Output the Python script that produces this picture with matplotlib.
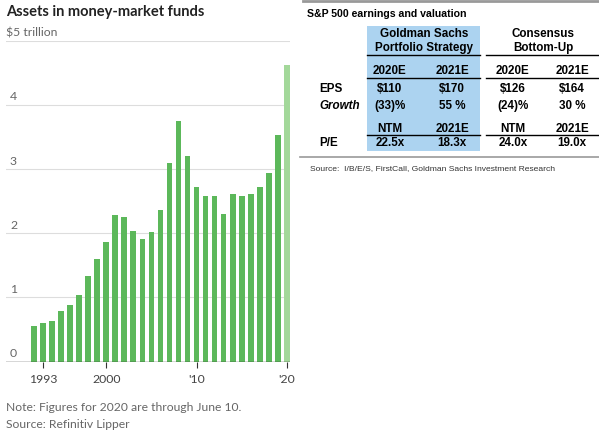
import numpy as np
import matplotlib
matplotlib.use("Agg")
from matplotlib import pyplot as plt
from matplotlib.patches import Rectangle
from matplotlib.lines import Line2D

# money-market fund assets, $ trillion
years = list(range(1992, 2021))
assets = [0.56, 0.60, 0.64, 0.79, 0.89, 1.04, 1.33, 1.60, 1.86, 2.28,
          2.25, 2.04, 1.92, 2.02, 2.36, 3.10, 3.75, 3.21, 2.73, 2.58,
          2.58, 2.30, 2.61, 2.58, 2.62, 2.73, 2.94, 3.54, 4.63]
y_ticks = [0, 1, 2, 3, 4]
x_ticks = [1993, 2000, 2010, 2020]
x_tick_labels = ["1993", "2000", "'10", "'20"]

# S&P 500 table
group_names = ["Goldman Sachs\nPortfolio Strategy", "Consensus\nBottom-Up"]
eps_years = ["2020E", "2021E", "2020E", "2021E"]
eps_values = ["$110", "$170", "$126", "$164"]
growth_values = ["(33)%", "55 %", "(24)%", "30 %"]
pe_headers = ["NTM", "2021E", "NTM", "2021E"]
pe_values = ["22.5x", "18.3x", "24.0x", "19.0x"]

W, H = 599, 435
fig = plt.figure(figsize=(W / 100, H / 100), dpi=100)


def fx(px):
    return px / W


def fy(py):
    return 1 - py / H


# ---- left: bar chart ----
green = "#5cb85a"
light_green = "#a3d89a"
grey_text = "#666666"

y0, y5 = 362.5, 42.3
x_left, x_right = 6, 290
ax = fig.add_axes([fx(x_left), fy(y0), fx(x_right - x_left), fy(y5) - fy(y0)])
colors = [green] * (len(years) - 1) + [light_green]
ax.bar(years, assets, width=0.63, color=colors, zorder=2)
ax.set_xlim(1988.9, 2020.35)
ax.set_ylim(0, 5)
for s in ax.spines.values():
    s.set_visible(False)
for v in y_ticks[1:] + [5]:
    ax.axhline(v, color="#dddddd", lw=0.8, zorder=1)
ax.axhline(0, color="#333333", lw=1.0, zorder=3)
ax.set_yticks([])
ax.set_xticks(x_ticks)
ax.set_xticklabels(x_tick_labels, fontsize=8.8, color="#444444", family="Lato")
ax.tick_params(axis="x", length=4, width=0.8, color="#333333", pad=4)
for v in y_ticks:
    ax.text(0.014, v + 0.06, str(v), transform=ax.get_yaxis_transform(),
            ha="left", va="bottom", fontsize=8.8, color=grey_text, family="Lato")
ax.text(0.0, 5.06, "$5 trillion", transform=ax.get_yaxis_transform(),
        ha="left", va="bottom", fontsize=8.8, color=grey_text, family="Lato")

fig.text(fx(6), fy(12), "Assets in money-market funds", ha="left", va="center",
         fontsize=10.5, fontweight="bold", color="#222222", family="Lato")
fig.text(fx(6), fy(408), "Note: Figures for 2020 are through June 10.",
         ha="left", va="center", fontsize=8.7, color=grey_text, family="Lato")
fig.text(fx(6), fy(425), "Source: Refinitiv Lipper",
         ha="left", va="center", fontsize=8.7, color=grey_text, family="Lato")

# ---- right: table ----
tf = "Liberation Sans"
fig.add_artist(Rectangle((fx(367), fy(152)), fx(480 - 367), fy(27) - fy(152),
                         transform=fig.transFigure, color="#acd3f0", lw=0))


def hline(x1, x2, y, color="black", lw=1.0):
    fig.add_artist(Line2D([fx(x1), fx(x2)], [fy(y), fy(y)],
                          transform=fig.transFigure, color=color, lw=lw))


hline(303, 599, 2, color="#999999", lw=2)
hline(300, 599, 158, color="#999999", lw=1.2)
hline(367, 480, 56)
hline(486, 599, 56)
hline(367, 480, 78.7)
hline(486, 599, 78.7)
hline(367, 480, 136)
hline(486, 599, 136)

fig.text(fx(307), fy(14), "S&P 500 earnings and valuation", ha="left", va="center",
         fontsize=7.6, fontweight="bold", family=tf)
group_x = [424, 543]
for gx, name in zip(group_x, group_names):
    fig.text(fx(gx), fy(41), name, ha="center", va="center", fontsize=8.4,
             fontweight="bold", family=tf, linespacing=1.15)

col_x = [390, 452, 513, 572]
row_y = {"years": 71, "eps": 89, "growth": 106, "pe_head": 129, "pe": 143}
for cx, a, b, c, d, e in zip(col_x, eps_years, eps_values, growth_values,
                             pe_headers, pe_values):
    fig.text(fx(cx), fy(row_y["years"]), a, ha="center", va="center",
             fontsize=8.4, fontweight="bold", family=tf)
    fig.text(fx(cx), fy(row_y["eps"]), b, ha="center", va="center",
             fontsize=8.4, fontweight="bold", family=tf)
    fig.text(fx(cx), fy(row_y["growth"]), c, ha="center", va="center",
             fontsize=8.4, fontweight="bold", family=tf)
    fig.text(fx(cx), fy(row_y["pe_head"]), d, ha="center", va="center",
             fontsize=8.4, fontweight="bold", family=tf)
    fig.text(fx(cx), fy(row_y["pe"]), e, ha="center", va="center",
             fontsize=8.4, fontweight="bold", family=tf)

fig.text(fx(319), fy(row_y["eps"]), "EPS", ha="left", va="center",
         fontsize=8.4, fontweight="bold", family=tf)
fig.text(fx(319), fy(row_y["growth"]), "Growth", ha="left", va="center",
         fontsize=8.4, fontweight="bold", fontstyle="italic", family=tf)
fig.text(fx(319), fy(row_y["pe"]), "P/E", ha="left", va="center",
         fontsize=8.4, fontweight="bold", family=tf)
fig.text(fx(310), fy(169), "Source:  I/B/E/S, FirstCall, Goldman Sachs Investment Research",
         ha="left", va="center", fontsize=6.1, color="#333333", family=tf)

fig.savefig("out.png", dpi=100)
